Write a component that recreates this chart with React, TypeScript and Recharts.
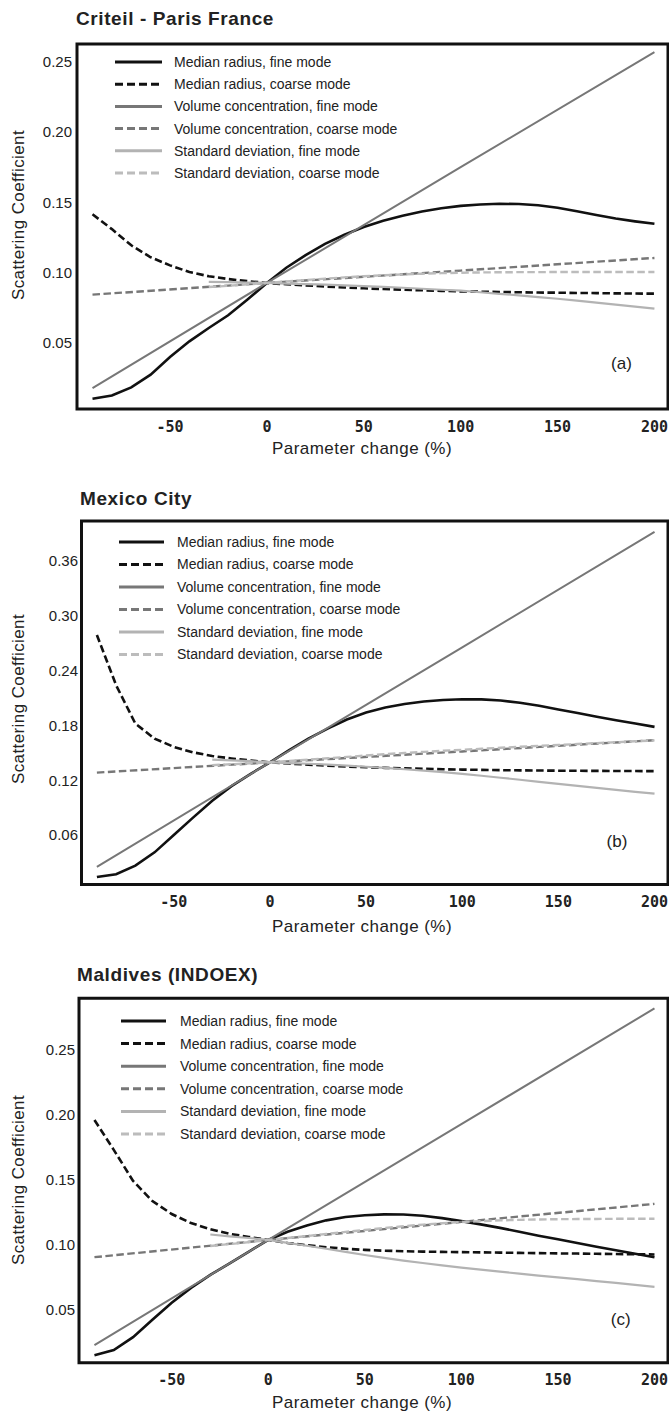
import React from 'react';
import { LineChart, Line, XAxis, YAxis, Legend, ReferenceArea } from 'recharts';

// ---------- shared axes / categories ----------
const curveX = [-90, -80, -70, -60, -50, -40, -30, -20, -10, 0, 10, 20, 30, 40, 50, 60, 70, 80, 90, 100, 110, 120, 130, 140, 150, 160, 170, 180, 190, 200];
const stdX = [-30, -20, -10, 0, 10, 20, 30, 40, 50, 60, 70, 80, 90, 100, 110, 120, 130, 140, 150, 160, 170, 180, 190, 200];
const volX = [-90, 0, 100, 200];
const xTicks = [-50, 0, 50, 100, 150, 200];
const xDomain: [number, number] = [-98, 207];

const seriesNames = [
  'Median radius, fine mode',
  'Median radius, coarse mode',
  'Volume concentration, fine mode',
  'Volume concentration, coarse mode',
  'Standard deviation, fine mode',
  'Standard deviation, coarse mode',
];

// ---------- (a) Criteil - Paris France ----------
const parisMedianFine = [0.0104, 0.0127, 0.0185, 0.0275, 0.040, 0.0512, 0.0607, 0.0697, 0.081, 0.0927, 0.1035, 0.1125, 0.1205, 0.127, 0.1325, 0.137, 0.1405, 0.1435, 0.1458, 0.1475, 0.1485, 0.149, 0.1488, 0.148, 0.1462, 0.1437, 0.141, 0.1385, 0.1365, 0.1348];
const parisMedianCoarse = [0.1415, 0.131, 0.1195, 0.111, 0.1052, 0.1005, 0.0975, 0.0955, 0.094, 0.0927, 0.0918, 0.091, 0.0902, 0.0895, 0.0889, 0.0884, 0.0879, 0.0875, 0.0871, 0.0867, 0.0865, 0.0863, 0.0861, 0.0859, 0.0858, 0.0856, 0.0855, 0.0853, 0.0852, 0.0851];
const parisVolumeFine = [0.018, 0.0927, 0.175, 0.2569];
const parisVolumeCoarse = [0.0844, 0.0927, 0.1015, 0.1105];
const parisStdFine = [0.0935, 0.0933, 0.093, 0.0927, 0.0923, 0.0919, 0.0915, 0.091, 0.0905, 0.0899, 0.0893, 0.0886, 0.0879, 0.0872, 0.0861, 0.085, 0.0839, 0.0827, 0.0815, 0.0801, 0.0787, 0.0773, 0.0759, 0.0744];
const parisStdCoarse = [0.0898, 0.0907, 0.0917, 0.0927, 0.0938, 0.0948, 0.0958, 0.0967, 0.0975, 0.0982, 0.0988, 0.0993, 0.0997, 0.1, 0.1002, 0.1003, 0.1004, 0.1004, 0.1005, 0.1005, 0.1005, 0.1005, 0.1005, 0.1005];
const parisYTicks = [0.05, 0.1, 0.15, 0.2, 0.25];

// ---------- (b) Mexico City ----------
const mexicoMedianFine = [0.014, 0.017, 0.0265, 0.041, 0.060, 0.079, 0.0975, 0.1135, 0.127, 0.1395, 0.153, 0.1655, 0.1765, 0.1865, 0.194, 0.1995, 0.2035, 0.2062, 0.2078, 0.2087, 0.2085, 0.2072, 0.2048, 0.2015, 0.1975, 0.1935, 0.1895, 0.1857, 0.182, 0.1784];
const mexicoMedianCoarse = [0.279, 0.224, 0.182, 0.1655, 0.1565, 0.1505, 0.1465, 0.1438, 0.1415, 0.1395, 0.1382, 0.137, 0.136, 0.135, 0.1342, 0.1335, 0.133, 0.1325, 0.132, 0.1316, 0.1313, 0.131, 0.1308, 0.1306, 0.1304, 0.1303, 0.1302, 0.1301, 0.13, 0.1299];
const mexicoVolumeFine = [0.0251, 0.1395, 0.2655, 0.392];
const mexicoVolumeCoarse = [0.1283, 0.1395, 0.1515, 0.1638];
const mexicoStdFine = [0.1425, 0.1418, 0.1408, 0.1395, 0.1388, 0.138, 0.137, 0.1359, 0.1347, 0.1334, 0.132, 0.1305, 0.1288, 0.127, 0.1249, 0.1227, 0.1205, 0.1182, 0.1159, 0.1137, 0.1115, 0.1094, 0.1073, 0.1053];
const mexicoStdCoarse = [0.1365, 0.1375, 0.1385, 0.1395, 0.141, 0.1425, 0.144, 0.1455, 0.147, 0.1485, 0.1498, 0.151, 0.1522, 0.1533, 0.1544, 0.1555, 0.1566, 0.1576, 0.1586, 0.1596, 0.1606, 0.1616, 0.1626, 0.1636];
const mexicoYTicks = [0.06, 0.12, 0.18, 0.24, 0.3, 0.36];

// ---------- (c) Maldives (INDOEX) ----------
const maldivesMedianFine = [0.0146, 0.0185, 0.0285, 0.042, 0.055, 0.0665, 0.0765, 0.0855, 0.0945, 0.1035, 0.1098, 0.1147, 0.1186, 0.1212, 0.1226, 0.1232, 0.1231, 0.1222, 0.1203, 0.118, 0.1155, 0.1128, 0.1098, 0.1068, 0.104, 0.1012, 0.0983, 0.0955, 0.0928, 0.0902];
const maldivesMedianCoarse = [0.196, 0.173, 0.149, 0.1335, 0.1235, 0.1165, 0.1118, 0.1082, 0.1058, 0.1035, 0.1012, 0.0994, 0.0979, 0.0967, 0.0958, 0.0952, 0.0948, 0.0945, 0.0943, 0.0941, 0.0939, 0.0937, 0.0935, 0.0933, 0.0931, 0.093, 0.0928, 0.0926, 0.0925, 0.0923];
const maldivesVolumeFine = [0.0223, 0.1035, 0.1928, 0.2821];
const maldivesVolumeCoarse = [0.0902, 0.1035, 0.1174, 0.1313];
const maldivesStdFine = [0.1077, 0.1063, 0.105, 0.1035, 0.1013, 0.099, 0.0967, 0.0943, 0.0919, 0.0896, 0.0876, 0.0857, 0.0839, 0.0822, 0.0806, 0.079, 0.0775, 0.076, 0.0746, 0.0732, 0.0718, 0.0704, 0.0689, 0.0673];
const maldivesStdCoarse = [0.0988, 0.1003, 0.1018, 0.1035, 0.105, 0.1065, 0.1081, 0.1097, 0.1112, 0.1127, 0.1141, 0.1153, 0.1164, 0.1173, 0.118, 0.1186, 0.119, 0.1193, 0.1195, 0.1196, 0.1197, 0.1198, 0.1198, 0.1198];
const maldivesYTicks = [0.05, 0.1, 0.15, 0.2, 0.25];

// ---------- styling ----------
const LINE_STYLES = [
  { stroke: '#111111', width: 2.6, dash: undefined as string | undefined, legendWidth: 3 },
  { stroke: '#111111', width: 2.6, dash: '7.5 3.5', legendWidth: 3 },
  { stroke: '#777777', width: 2, dash: undefined, legendWidth: 3 },
  { stroke: '#777777', width: 2.4, dash: '7.5 3.5', legendWidth: 3 },
  { stroke: '#b3b3b3', width: 2.2, dash: undefined, legendWidth: 3 },
  { stroke: '#bcbcbc', width: 2.4, dash: '7.5 3.5', legendWidth: 3 },
];

const SANS = '"Liberation Sans", Arial, Helvetica, sans-serif';
const TEXT = '#222222';

const rows = (xs: number[], ys: number[]) => xs.map((x, i) => ({ x, y: ys[i] }));

function makeSeries(mf: number[], mc: number[], vf: number[], vc: number[], sf: number[], sc: number[]) {
  return [
    rows(curveX, mf),
    rows(curveX, mc),
    rows(volX, vf),
    rows(volX, vc),
    rows(stdX, sf),
    rows(stdX, sc),
  ];
}

const PANELS = [
  {
    title: 'Criteil - Paris France', letter: '(a)', height: 477,
    plotTop: 44, plotBottom: 409, plotLeft: 77, yTickMargin: 5,
    yDomain: [0.0031, 0.2626] as [number, number], yTicks: parisYTicks,
    series: makeSeries(parisMedianFine, parisMedianCoarse, parisVolumeFine, parisVolumeCoarse, parisStdFine, parisStdCoarse),
    titleLeft: 76, titleTop: 9.2, letterX: 621.5, letterY: 362.5, yTitleY: 215, xTitleY: 448,
    legendLeft: 115, legendLine: 47, legendTextDx: 59, legendTop: 62.3, legendGap: 22.2,
  },
  {
    title: 'Mexico City', letter: '(b)', height: 477,
    plotTop: 44, plotBottom: 407.5, plotLeft: 81.5, yTickMargin: 3.5,
    yDomain: [0.0058, 0.4038] as [number, number], yTicks: mexicoYTicks,
    series: makeSeries(mexicoMedianFine, mexicoMedianCoarse, mexicoVolumeFine, mexicoVolumeCoarse, mexicoStdFine, mexicoStdCoarse),
    titleLeft: 80, titleTop: 12.2, letterX: 617, letterY: 363.5, yTitleY: 222, xTitleY: 449,
    legendLeft: 119, legendLine: 45, legendTextDx: 58, legendTop: 65.3, legendGap: 22.5,
  },
  {
    title: 'Maldives (INDOEX)', letter: '(c)', height: 458,
    plotTop: 44.3, plotBottom: 408.7, plotLeft: 79, yTickMargin: 4,
    yDomain: [0.0088, 0.2899] as [number, number], yTicks: maldivesYTicks,
    series: makeSeries(maldivesMedianFine, maldivesMedianCoarse, maldivesVolumeFine, maldivesVolumeCoarse, maldivesStdFine, maldivesStdCoarse),
    titleLeft: 77, titleTop: 11.2, letterX: 620.7, letterY: 365, yTitleY: 226, xTitleY: 447.7,
    legendLeft: 121, legendLine: 45, legendTextDx: 59, legendTop: 67, legendGap: 22.6,
  },
];

function LegendBox({ line, textDx, gap }: { line: number; textDx: number; gap: number }) {
  const h = gap * 5 + 20;
  return (
    <svg width={340} height={h} style={{ display: 'block', overflow: 'visible' }}>
      {seriesNames.map((name, i) => {
        const st = LINE_STYLES[i];
        const cy = 10 + i * gap;
        return (
          <g key={name}>
            <line x1={0} x2={line} y1={cy} y2={cy} stroke={st.stroke} strokeWidth={st.legendWidth} strokeDasharray={st.dash ? '8 4' : undefined} />
            <text x={textDx} y={cy} dy="0.35em" fontFamily={SANS} fontSize={14} fill={TEXT}>{name}</text>
          </g>
        );
      })}
    </svg>
  );
}

function Panel({ p }: { p: (typeof PANELS)[number] }) {
  const xAxisH = 30;
  const margin = { top: p.plotTop, right: 1, left: 0, bottom: p.height - p.plotBottom - xAxisH };
  const innerTick = { stroke: '#111111', strokeWidth: 1.2 };
  return (
    <div style={{ position: 'relative', width: 669, height: p.height }}>
      <LineChart width={669} height={p.height} margin={margin}>
        <XAxis
          xAxisId="b" type="number" dataKey="x" domain={xDomain} ticks={xTicks} interval={0} allowDataOverflow
          height={xAxisH} tickLine={false} tickSize={0} tickMargin={12} axisLine={false}
          tick={{ fontFamily: '"DejaVu Sans Mono", monospace', fontWeight: 'bold', fontSize: 15, fill: TEXT }}
        />
        <XAxis
          xAxisId="bi" type="number" orientation="bottom" mirror height={1} domain={xDomain} ticks={xTicks}
          interval={0} allowDataOverflow tick={false} tickSize={5} tickLine={innerTick} axisLine={false}
        />
        <XAxis
          xAxisId="t" type="number" orientation="top" mirror height={1} domain={xDomain} ticks={xTicks}
          interval={0} allowDataOverflow tick={false} tickSize={5} tickLine={innerTick} axisLine={false}
        />
        <YAxis
          yAxisId="l" type="number" domain={p.yDomain} ticks={p.yTicks} interval={0} allowDataOverflow width={p.plotLeft}
          tickLine={false} tickSize={0} tickMargin={p.yTickMargin} axisLine={false}
          tickFormatter={(v: number) => v.toFixed(2)}
          tick={{ fontFamily: SANS, fontSize: 15, fill: TEXT }}
        />
        <YAxis
          yAxisId="li" type="number" mirror width={1} domain={p.yDomain} ticks={p.yTicks} interval={0} allowDataOverflow
          tick={false} tickSize={5} tickLine={innerTick} axisLine={false}
        />
        <YAxis
          yAxisId="r" type="number" orientation="right" mirror width={1} domain={p.yDomain} ticks={p.yTicks} interval={0}
          allowDataOverflow tick={false} tickSize={5} tickLine={innerTick} axisLine={false}
        />
        {p.series.map((data, i) => {
          const st = LINE_STYLES[i];
          return (
            <Line
              key={seriesNames[i]} name={seriesNames[i]} data={data} dataKey="y" xAxisId="b" yAxisId="l"
              type="linear" dot={false} activeDot={false} stroke={st.stroke} strokeWidth={st.width}
              strokeDasharray={st.dash} isAnimationActive={false}
            />
          );
        })}
        <ReferenceArea
          xAxisId="b" yAxisId="l" x1={xDomain[0]} x2={xDomain[1]} y1={p.yDomain[0]} y2={p.yDomain[1]}
          ifOverflow="visible" fill="none" fillOpacity={0} stroke="#111111" strokeWidth={3}
        />
        <Legend
          layout="horizontal" verticalAlign="middle" align="center"
          wrapperStyle={{ left: p.legendLeft, top: p.legendTop - 10, width: 340, height: p.legendGap * 5 + 20 }}
          content={() => <LegendBox line={p.legendLine} textDx={p.legendTextDx} gap={p.legendGap} />}
        />
      </LineChart>
      <div style={{ position: 'absolute', left: p.titleLeft, top: p.titleTop, fontFamily: SANS, fontWeight: 'bold', fontSize: 19, lineHeight: '19px', letterSpacing: 0.6, color: TEXT, whiteSpace: 'nowrap' }}>
        {p.title}
      </div>
      <div style={{ position: 'absolute', left: 18.3, top: p.yTitleY, transform: 'translate(-50%, -50%) rotate(-90deg)', fontFamily: SANS, fontSize: 17, lineHeight: '17px', letterSpacing: 0.4, color: TEXT, whiteSpace: 'nowrap' }}>
        Scattering Coefficient
      </div>
      <div style={{ position: 'absolute', left: 362, top: p.xTitleY, transform: 'translate(-50%, -50%)', fontFamily: SANS, fontSize: 17, lineHeight: '17px', letterSpacing: 0.45, color: TEXT, whiteSpace: 'nowrap' }}>
        Parameter change (%)
      </div>
      <div style={{ position: 'absolute', left: p.letterX, top: p.letterY, transform: 'translate(-50%, -50%)', fontFamily: SANS, fontSize: 17, lineHeight: '17px', color: TEXT, whiteSpace: 'nowrap' }}>
        {p.letter}
      </div>
    </div>
  );
}

export default function App() {
  return (
    <div style={{ position: 'absolute', left: 0, top: 0, width: 669, height: 1412, background: '#ffffff', overflow: 'hidden' }}>
      {PANELS.map((p) => (
        <Panel key={p.title} p={p} />
      ))}
    </div>
  );
}
